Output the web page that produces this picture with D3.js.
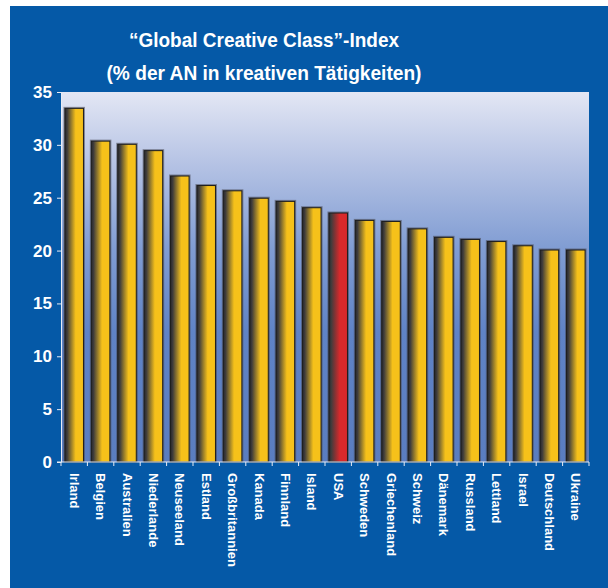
<!DOCTYPE html>
<html lang="de">
<head>
<meta charset="UTF-8">
<title>Global Creative Class Index</title>
<style>
    body {
        margin: 0;
        padding: 0;
        background: #ffffff;
        font-family: "Liberation Sans", Arial, sans-serif;
    }
    svg { display: block; }
    .axis path, .axis line { stroke: #e8ecf5; }
</style>
</head>
<body>
<div id="chart"></div>
<script src="https://d3js.org/d3.v7.min.js"></script>
<script>
// data
const countries = ["Irland", "Belgien", "Australien", "Niederlande", "Neuseeland", "Estland",
    "Großbritannien", "Kanada", "Finnland", "Island", "USA", "Schweden", "Griechenland",
    "Schweiz", "Dänemark", "Russland", "Lettland", "Israel", "Deutschland", "Ukraine"];
const values = [33.5, 30.4, 30.1, 29.5, 27.1, 26.2, 25.7, 25.0, 24.7, 24.1, 23.6, 22.9, 22.8,
    22.1, 21.3, 21.1, 20.9, 20.5, 20.1, 20.1];
const yTicks = [0, 5, 10, 15, 20, 25, 30, 35];
const highlight = "USA";
const titleLines = ["\u201CGlobal Creative Class\u201D-Index", "(% der AN in kreativen Tätigkeiten)"];

const width = 608, height = 588;
const plot = { left: 61, right: 589, top: 92, bottom: 462 };

const svg = d3.select("#chart").append("svg")
    .attr("width", width)
    .attr("height", height);

const defs = svg.append("defs");

// plot background gradient
const bg = defs.append("linearGradient").attr("id", "bg")
    .attr("x1", 0).attr("y1", 0).attr("x2", 0).attr("y2", 1);
bg.append("stop").attr("offset", "0%").attr("stop-color", "#e3e7f4");
bg.append("stop").attr("offset", "20%").attr("stop-color", "#b4c2e4");
bg.append("stop").attr("offset", "42%").attr("stop-color", "#819dd3");
bg.append("stop").attr("offset", "65%").attr("stop-color", "#5f83c6");
bg.append("stop").attr("offset", "100%").attr("stop-color", "#5a7dc0");

function barGradient(id, color) {
    const g = defs.append("linearGradient").attr("id", id)
        .attr("x1", 0).attr("y1", 0).attr("x2", 1).attr("y2", 0);
    g.append("stop").attr("offset", "0%").attr("stop-color", "#28282a");
    g.append("stop").attr("offset", "12%").attr("stop-color", "#3e3c3c");
    g.append("stop").attr("offset", "58%").attr("stop-color", color);
    g.append("stop").attr("offset", "100%").attr("stop-color", color);
}
barGradient("barYellow", "#f6c11a");
barGradient("barRed", "#d8292b");

// blue panel
svg.append("rect")
    .attr("x", 10).attr("y", 6)
    .attr("width", width - 10).attr("height", height - 6)
    .attr("fill", "#0559a7");

// title
svg.selectAll(".title")
    .data(titleLines)
    .enter()
    .append("text")
    .attr("class", "title")
    .attr("x", 264)
    .attr("y", (d, i) => 47 + i * 33)
    .attr("text-anchor", "middle")
    .attr("fill", "#ffffff")
    .attr("font-size", "21px")
    .attr("font-weight", "bold")
    .attr("textLength", (d, i) => i === 0 ? 270 : 315)
    .attr("lengthAdjust", "spacingAndGlyphs")
    .text(d => d);

// scales
const x = d3.scaleBand()
    .domain(countries)
    .range([plot.left, plot.right])
    .paddingInner(0.26)
    .paddingOuter(0.13);

const y = d3.scaleLinear()
    .domain([0, 35])
    .range([plot.bottom, plot.top]);

// plot area
svg.append("rect")
    .attr("x", plot.left).attr("y", plot.top)
    .attr("width", plot.right - plot.left)
    .attr("height", plot.bottom - plot.top)
    .attr("fill", "url(#bg)");

// bars
const data = countries.map((c, i) => ({ country: c, value: values[i] }));

// soft grey edge around each bar
svg.append("g")
    .selectAll("rect")
    .data(data)
    .enter()
    .append("rect")
    .attr("x", d => x(d.country) - 1)
    .attr("y", d => y(d.value) - 1)
    .attr("width", x.bandwidth() + 2)
    .attr("height", d => y(0) - y(d.value) + 1)
    .attr("fill", "rgba(70,70,80,0.55)");

svg.append("g")
    .selectAll("rect")
    .data(data)
    .enter()
    .append("rect")
    .attr("x", d => x(d.country) + 0.5)
    .attr("y", d => y(d.value) + 0.5)
    .attr("width", x.bandwidth() - 1)
    .attr("height", d => y(0) - y(d.value) - 0.5)
    .attr("fill", d => d.country === highlight ? "url(#barRed)" : "url(#barYellow)")
    .attr("stroke", "#1e1e1e")
    .attr("stroke-width", 1);

// y axis
const yAxis = svg.append("g")
    .attr("class", "axis")
    .attr("transform", `translate(${plot.left},0)`)
    .call(d3.axisLeft(y).tickValues(yTicks).tickSize(4).tickSizeOuter(0).tickPadding(5));

yAxis.selectAll("text")
    .attr("fill", "#ffffff")
    .attr("font-size", "17px")
    .attr("font-weight", "bold")
    .attr("font-family", "'Liberation Sans', Arial, sans-serif");

// x axis: line plus ticks at band boundaries
const half = (x.step() - x.bandwidth()) / 2;
const boundaries = countries.map(c => x(c) - half).concat([plot.right]);
const xAxis = svg.append("g").attr("class", "axis");

xAxis.append("line")
    .attr("x1", plot.left - 4).attr("x2", plot.right)
    .attr("y1", plot.bottom).attr("y2", plot.bottom)
    .attr("stroke", "#e8ecf5");

xAxis.selectAll(".tick")
    .data(boundaries)
    .enter()
    .append("line")
    .attr("x1", d => d).attr("x2", d => d)
    .attr("y1", plot.bottom).attr("y2", plot.bottom + 4)
    .attr("stroke", "#e8ecf5");

xAxis.selectAll(".label")
    .data(countries)
    .enter()
    .append("text")
    .attr("class", "label")
    .attr("transform", d => `translate(${x(d) + x.bandwidth() / 2},473) rotate(90)`)
    .attr("dominant-baseline", "central")
    .attr("fill", "#ffffff")
    .attr("font-size", "13px")
    .attr("font-weight", "bold")
    .text(d => d);
</script>
</body>
</html>
